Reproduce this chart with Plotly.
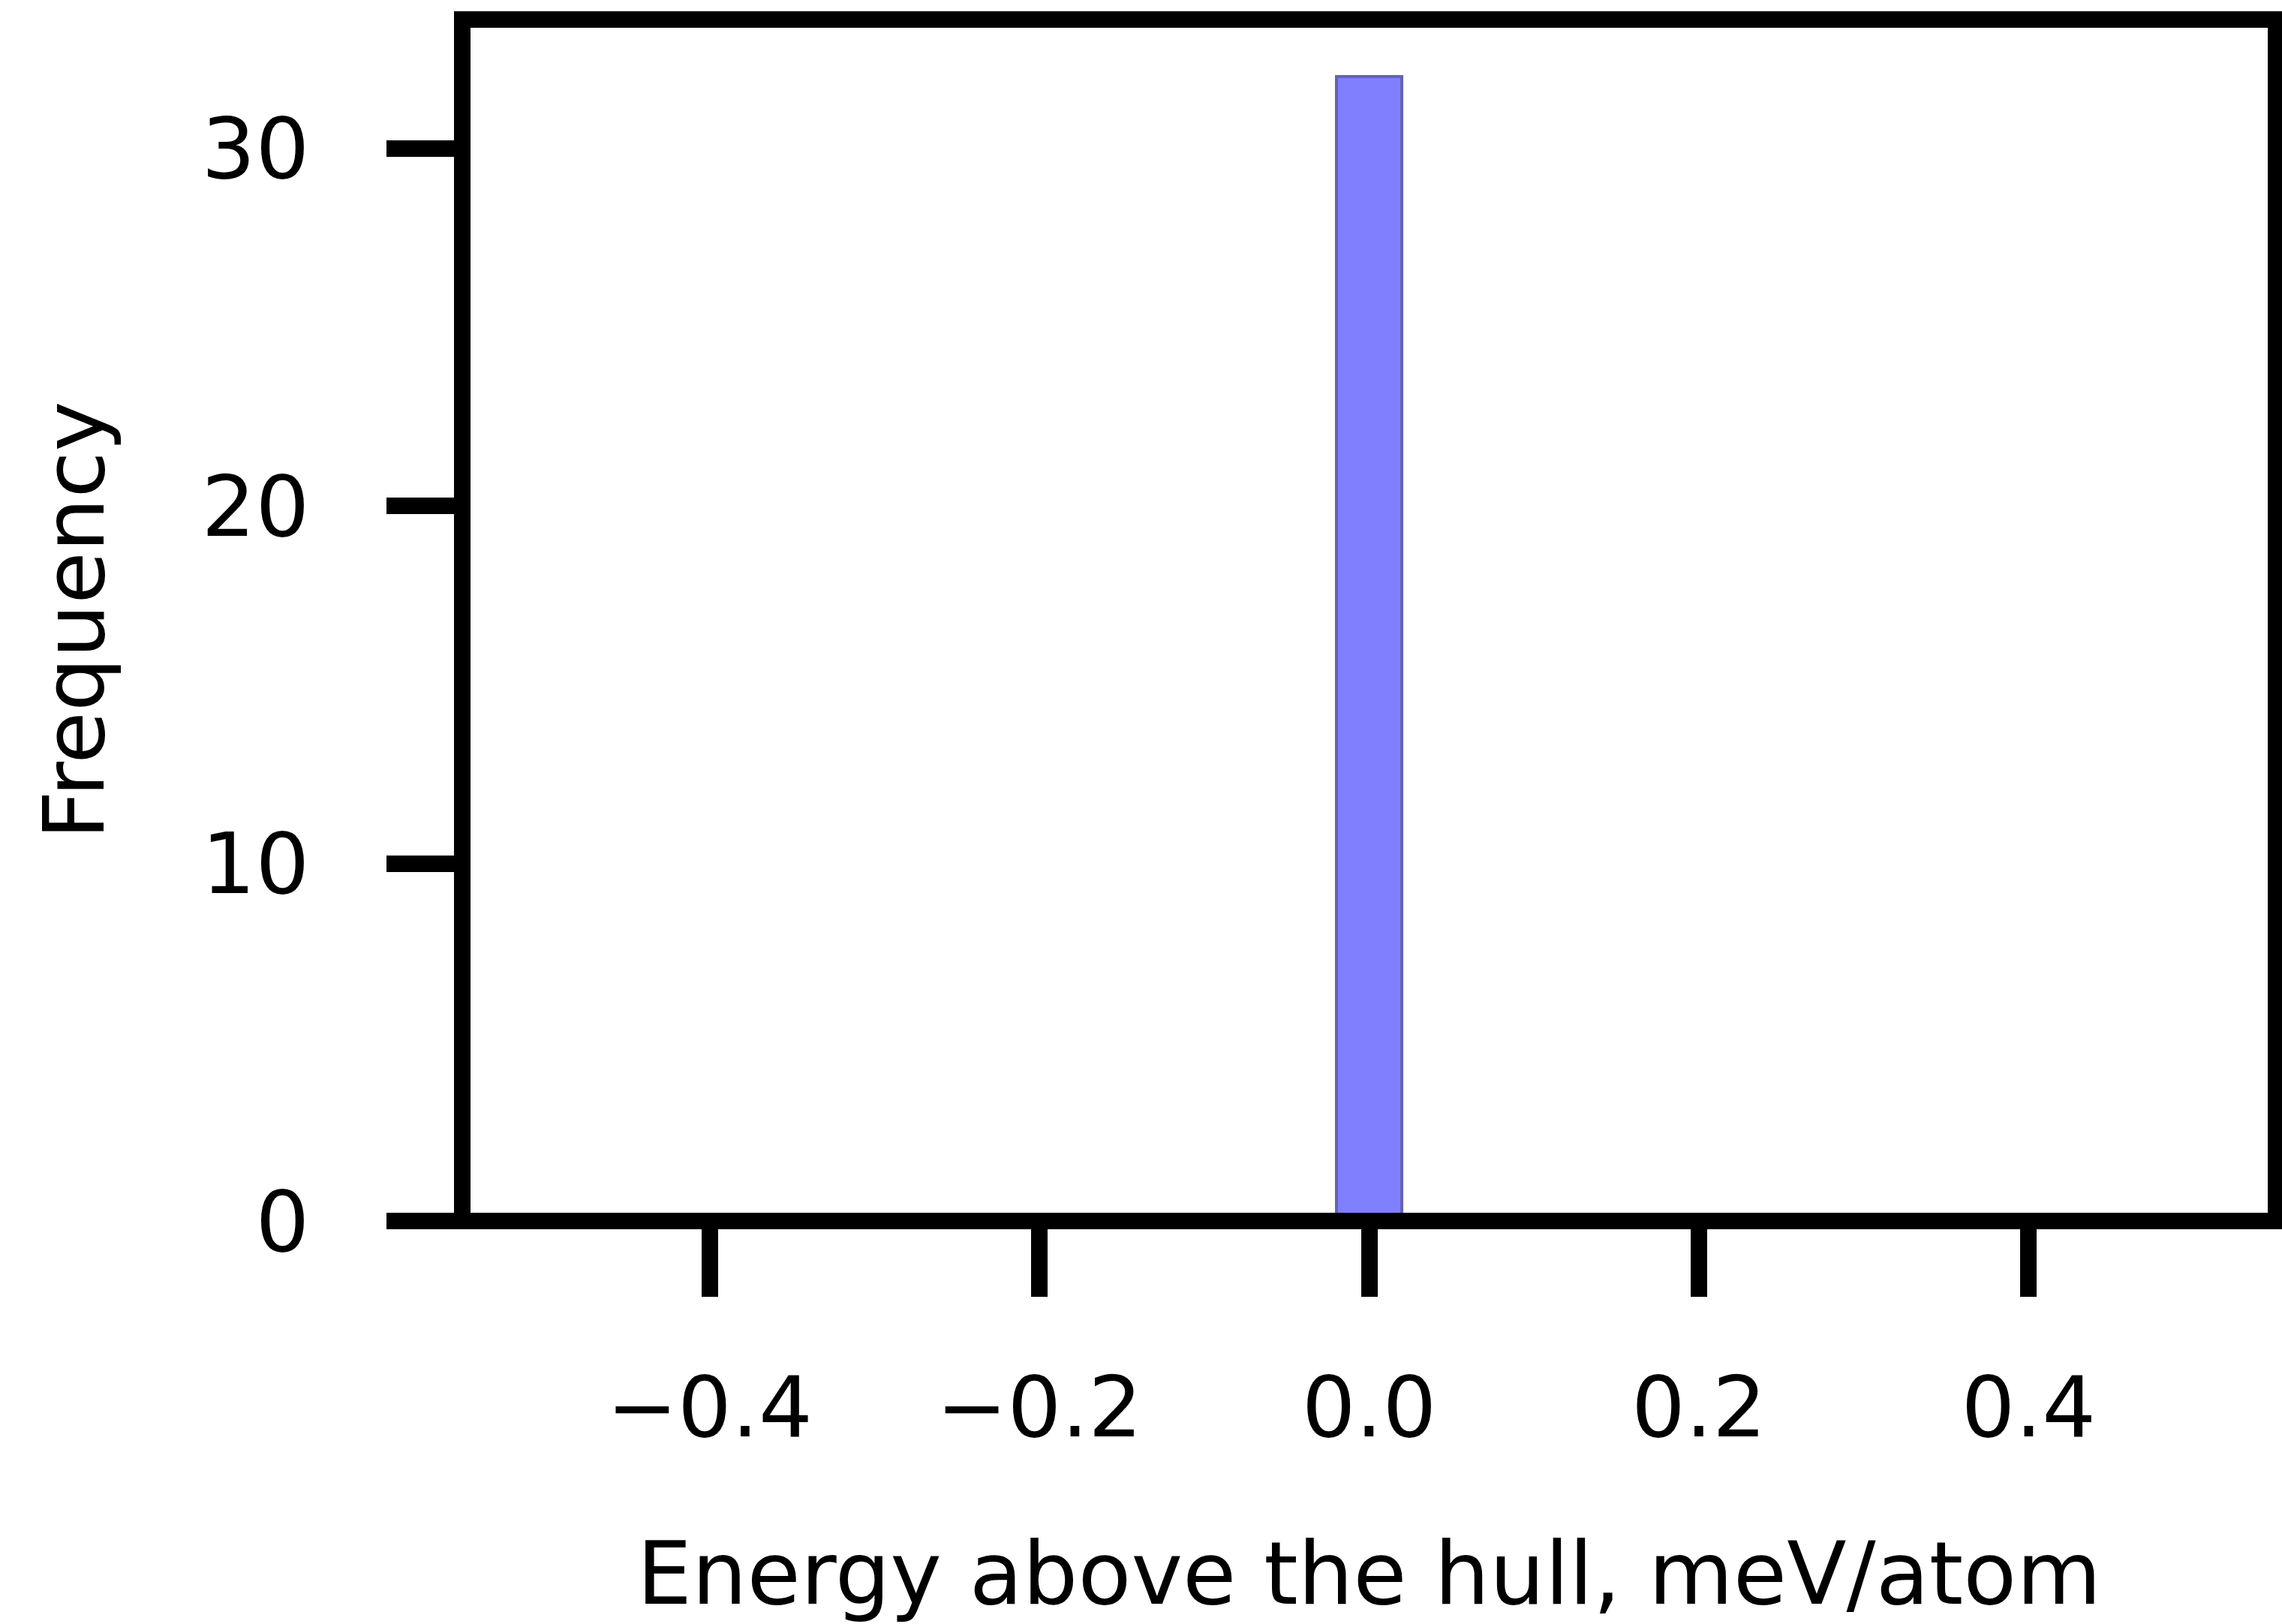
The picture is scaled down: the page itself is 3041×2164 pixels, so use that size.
import plotly.graph_objects as go

# Histogram data (bin centres, counts)
bin_centers = [0.0]
counts = [32]
bin_width = 0.04

x_ticks = [-0.4, -0.2, 0.0, 0.2, 0.4]
y_ticks = [0, 10, 20, 30]

x_label = "Energy above the hull, meV/atom"
y_label = "Frequency"

fig = go.Figure()
fig.add_trace(go.Bar(
    x=bin_centers, y=counts, width=[bin_width] * len(bin_centers),
    marker=dict(color="rgb(128,128,255)", line=dict(color="rgb(100,100,175)", width=4)),
    showlegend=False,
))

FONT = "DejaVu Sans"
TICK_FS = 113
LW = 22

fig.update_layout(
    width=3041, height=2164,
    margin=dict(l=616, r=8, t=26, b=537, autoexpand=False),
    paper_bgcolor="white", plot_bgcolor="white",
    font=dict(family=FONT, size=TICK_FS, color="black"),
    bargap=0,
    shapes=[dict(type="rect", xref="paper", yref="paper", x0=0, x1=1, y0=0, y1=1,
                 line=dict(color="black", width=LW), layer="above")],
)
fig.update_xaxes(
    range=[-0.55, 0.55], tickvals=x_ticks, tickformat=".1f",
    showgrid=False, zeroline=False, showline=False,
    ticks="outside", ticklen=100, tickwidth=LW, tickcolor="black",
    ticklabelstandoff=50,
    title=dict(text=x_label, standoff=130, font=dict(size=116)),
)
fig.update_yaxes(
    range=[0, 33.6], tickvals=y_ticks,
    showgrid=False, zeroline=False, showline=False,
    ticks="outside", ticklen=100, tickwidth=LW, tickcolor="black",
    ticklabelstandoff=80,
    title=dict(text=y_label, standoff=92, font=dict(size=113)),
)

fig.write_html("out.html")
